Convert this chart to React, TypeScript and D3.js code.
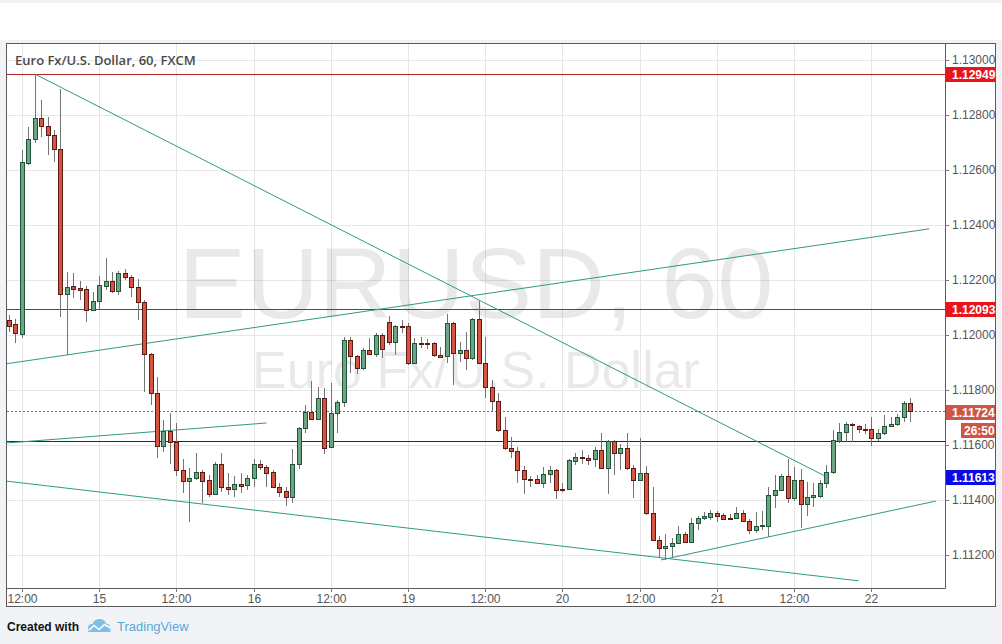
import React from 'react';
import * as d3 from 'd3';

// OHLC per hourly bar (open, high, low, close)
const candles: [number, number, number, number][] = [
  [1.12055, 1.12073, 1.12011, 1.12033],
  [1.12040, 1.12058, 1.11971, 1.12007],
  [1.12004, 1.12673, 1.11989, 1.12629],
  [1.12625, 1.12756, 1.12618, 1.12713],
  [1.12713, 1.12949, 1.12698, 1.12789],
  [1.12789, 1.12855, 1.12720, 1.12760],
  [1.12760, 1.12793, 1.12655, 1.12727],
  [1.12727, 1.12745, 1.12629, 1.12676],
  [1.12676, 1.12895, 1.12065, 1.12149],
  [1.12149, 1.12229, 1.11927, 1.12175],
  [1.12178, 1.12225, 1.12135, 1.12167],
  [1.12171, 1.12196, 1.12127, 1.12164],
  [1.12167, 1.12178, 1.12047, 1.12091],
  [1.12091, 1.12156, 1.12091, 1.12124],
  [1.12124, 1.12215, 1.12091, 1.12182],
  [1.12178, 1.12280, 1.12164, 1.12196],
  [1.12196, 1.12229, 1.12153, 1.12160],
  [1.12160, 1.12233, 1.12145, 1.12225],
  [1.12225, 1.12240, 1.12200, 1.12211],
  [1.12211, 1.12218, 1.12138, 1.12175],
  [1.12175, 1.12204, 1.12055, 1.12120],
  [1.12120, 1.12127, 1.11793, 1.11931],
  [1.11931, 1.11935, 1.11745, 1.11789],
  [1.11789, 1.11847, 1.11553, 1.11596],
  [1.11596, 1.11691, 1.11575, 1.11651],
  [1.11651, 1.11716, 1.11531, 1.11611],
  [1.11611, 1.11680, 1.11487, 1.11509],
  [1.11509, 1.11549, 1.11425, 1.11469],
  [1.11469, 1.11516, 1.11320, 1.11480],
  [1.11480, 1.11571, 1.11473, 1.11502],
  [1.11502, 1.11509, 1.11389, 1.11469],
  [1.11473, 1.11491, 1.11411, 1.11422],
  [1.11422, 1.11538, 1.11418, 1.11531],
  [1.11531, 1.11571, 1.11429, 1.11447],
  [1.11447, 1.11498, 1.11418, 1.11440],
  [1.11440, 1.11487, 1.11411, 1.11458],
  [1.11458, 1.11498, 1.11425, 1.11451],
  [1.11455, 1.11491, 1.11436, 1.11480],
  [1.11480, 1.11549, 1.11447, 1.11531],
  [1.11531, 1.11545, 1.11509, 1.11520],
  [1.11520, 1.11527, 1.11447, 1.11498],
  [1.11502, 1.11509, 1.11444, 1.11447],
  [1.11447, 1.11462, 1.11411, 1.11429],
  [1.11433, 1.11447, 1.11378, 1.11411],
  [1.11411, 1.11585, 1.11389, 1.11531],
  [1.11531, 1.11665, 1.11513, 1.11662],
  [1.11662, 1.11745, 1.11644, 1.11720],
  [1.11720, 1.11833, 1.11693, 1.11695],
  [1.11695, 1.11811, 1.11691, 1.11771],
  [1.11771, 1.11807, 1.11567, 1.11589],
  [1.11593, 1.11825, 1.11589, 1.11716],
  [1.11716, 1.11764, 1.11644, 1.11756],
  [1.11756, 1.11993, 1.11738, 1.11982],
  [1.11982, 1.11993, 1.11862, 1.11924],
  [1.11924, 1.11927, 1.11858, 1.11880],
  [1.11880, 1.11953, 1.11873, 1.11945],
  [1.11945, 1.11989, 1.11927, 1.11931],
  [1.11931, 1.12007, 1.11920, 1.12000],
  [1.12000, 1.12007, 1.11916, 1.11949],
  [1.12047, 1.12069, 1.11964, 1.11975],
  [1.11975, 1.12036, 1.11927, 1.12033],
  [1.12033, 1.12055, 1.12007, 1.12029],
  [1.12033, 1.12044, 1.11891, 1.11898],
  [1.11898, 1.11989, 1.11898, 1.11971],
  [1.11971, 1.11993, 1.11953, 1.11967],
  [1.11971, 1.11985, 1.11949, 1.11967],
  [1.11971, 1.11975, 1.11920, 1.11927],
  [1.11927, 1.11956, 1.11918, 1.11920],
  [1.11924, 1.12076, 1.11898, 1.12044],
  [1.12044, 1.12047, 1.11818, 1.11935],
  [1.11935, 1.11975, 1.11902, 1.11945],
  [1.11945, 1.12011, 1.11873, 1.11916],
  [1.11916, 1.12062, 1.11909, 1.12058],
  [1.12058, 1.12124, 1.11898, 1.11898],
  [1.11898, 1.11993, 1.11771, 1.11811],
  [1.11811, 1.11836, 1.11724, 1.11760],
  [1.11760, 1.11789, 1.11647, 1.11655],
  [1.11655, 1.11702, 1.11582, 1.11589],
  [1.11589, 1.11629, 1.11553, 1.11578],
  [1.11578, 1.11593, 1.11462, 1.11509],
  [1.11509, 1.11524, 1.11422, 1.11476],
  [1.11476, 1.11487, 1.11447, 1.11473],
  [1.11476, 1.11491, 1.11458, 1.11462],
  [1.11462, 1.11520, 1.11444, 1.11495],
  [1.11495, 1.11524, 1.11462, 1.11509],
  [1.11509, 1.11513, 1.11404, 1.11436],
  [1.11440, 1.11462, 1.11429, 1.11436],
  [1.11440, 1.11549, 1.11436, 1.11545],
  [1.11542, 1.11571, 1.11527, 1.11556],
  [1.11556, 1.11582, 1.11531, 1.11553],
  [1.11553, 1.11564, 1.11527, 1.11545],
  [1.11549, 1.11593, 1.11520, 1.11582],
  [1.11582, 1.11644, 1.11513, 1.11516],
  [1.11516, 1.11618, 1.11422, 1.11615],
  [1.11615, 1.11618, 1.11491, 1.11571],
  [1.11571, 1.11604, 1.11509, 1.11589],
  [1.11589, 1.11644, 1.11509, 1.11516],
  [1.11516, 1.11527, 1.11407, 1.11473],
  [1.11473, 1.11625, 1.11473, 1.11498],
  [1.11498, 1.11524, 1.11345, 1.11353],
  [1.11353, 1.11447, 1.11252, 1.11255],
  [1.11255, 1.11269, 1.11189, 1.11225],
  [1.11225, 1.11276, 1.11182, 1.11233],
  [1.11233, 1.11262, 1.11193, 1.11244],
  [1.11244, 1.11305, 1.11240, 1.11276],
  [1.11276, 1.11284, 1.11244, 1.11247],
  [1.11247, 1.11335, 1.11244, 1.11316],
  [1.11316, 1.11342, 1.11291, 1.11335],
  [1.11335, 1.11356, 1.11327, 1.11342],
  [1.11338, 1.11364, 1.11327, 1.11353],
  [1.11353, 1.11360, 1.11320, 1.11342],
  [1.11345, 1.11353, 1.11329, 1.11331],
  [1.11335, 1.11349, 1.11331, 1.11333],
  [1.11335, 1.11375, 1.11331, 1.11353],
  [1.11353, 1.11364, 1.11320, 1.11324],
  [1.11324, 1.11331, 1.11276, 1.11291],
  [1.11291, 1.11356, 1.11280, 1.11305],
  [1.11305, 1.11360, 1.11291, 1.11309],
  [1.11305, 1.11447, 1.11265, 1.11418],
  [1.11418, 1.11491, 1.11371, 1.11436],
  [1.11436, 1.11495, 1.11433, 1.11487],
  [1.11487, 1.11549, 1.11389, 1.11407],
  [1.11407, 1.11520, 1.11396, 1.11473],
  [1.11473, 1.11513, 1.11298, 1.11385],
  [1.11385, 1.11465, 1.11342, 1.11411],
  [1.11411, 1.11462, 1.11375, 1.11418],
  [1.11415, 1.11473, 1.11407, 1.11462],
  [1.11462, 1.11527, 1.11444, 1.11502],
  [1.11502, 1.11655, 1.11495, 1.11618],
  [1.11615, 1.11680, 1.11607, 1.11647],
  [1.11647, 1.11684, 1.11611, 1.11676],
  [1.11676, 1.11680, 1.11611, 1.11673],
  [1.11669, 1.11673, 1.11644, 1.11658],
  [1.11658, 1.11676, 1.11640, 1.11655],
  [1.11658, 1.11702, 1.11596, 1.11625],
  [1.11625, 1.11658, 1.11615, 1.11644],
  [1.11644, 1.11709, 1.11636, 1.11669],
  [1.11669, 1.11702, 1.11665, 1.11676],
  [1.11676, 1.11713, 1.11669, 1.11702],
  [1.11702, 1.11760, 1.11684, 1.11753],
  [1.11753, 1.11771, 1.11684, 1.11724],
];

const priceTicks = [1.112, 1.114, 1.116, 1.118, 1.12, 1.122, 1.124, 1.126, 1.128, 1.13];

const timeTickBars = [2, 14, 26, 38, 50, 62, 74, 86, 98, 110, 122, 134];
const timeTickLabels = ['12:00', '15', '12:00', '16', '12:00', '19', '12:00', '20', '12:00', '21', '12:00', '22'];

const redLevels = [1.12949, 1.12093];
const blueLevel = 1.11613;
const lastPrice = 1.11724;
const countdown = '26:50';

// trend lines: [barFrom, priceFrom, barTo, priceTo]
const trendLines: [number, number, number, number][] = [
  [4, 1.12949, 126.8, 1.11487],
  [-0.5, 1.11895, 143, 1.12386],
  [-0.5, 1.11607, 40, 1.1168],
  [-0.5, 1.11469, 132, 1.11106],
  [101.3, 1.11182, 144, 1.11396],
];

const title = 'Euro Fx/U.S. Dollar, 60, FXCM';
const watermarkMain = 'EURUSD, 60';
const watermarkSub = 'Euro Fx/U.S. Dollar';

const UP_FILL = '#6ba583';
const UP_BORDER = '#225437';
const DOWN_FILL = '#d75442';
const DOWN_BORDER = '#5b1a13';
const WICK = '#737375';
const TREND = '#2f9986';
const AXIS_TEXT = '#555';
const FONT = 'Arial, "Liberation Sans", sans-serif';

export default function App() {
  const W = 1002;
  const H = 644;
  const plotL = 7;
  const plotR = 945;
  const plotT = 44;
  const plotB = 588;

  const x = d3.scaleLinear().domain([0, candles.length - 1]).range([9, 910]);
  const y = d3.scaleLinear().domain([1.112, 1.13]).range([555, 60]);

  const fmt = d3.format('.5f');

  const curY = y(lastPrice);
  const curBoxTop = Math.round(curY) - 6;
  const cdTop = curBoxTop + 18;
  const blueBoxTop = cdTop + 47;

  return (
    <div style={{ position: 'absolute', left: 0, top: 0, width: W, height: H }}>
      <svg width={W} height={H} style={{ display: 'block' }}>
        <defs>
          <clipPath id="plotClip">
            <rect x={plotL} y={plotT} width={plotR - plotL} height={plotB - plotT} />
          </clipPath>
        </defs>
        <rect x={0} y={0} width={W} height={H} fill="#f1f3f6" />
        <rect x={0} y={3} width={W} height={37} fill="#ffffff" />
        <rect x={6.5} y={43.5} width={989} height={563} fill="#ffffff" stroke="#5a5a5a" />

        <g clipPath="url(#plotClip)">
          {/* grid */}
          {priceTicks.map((p) => (
            <line key={'hg' + p} x1={plotL} x2={plotR} y1={Math.round(y(p)) + 0.5} y2={Math.round(y(p)) + 0.5} stroke="#e6e6e6" />
          ))}
          {timeTickBars.map((b) => (
            <line key={'vg' + b} x1={Math.round(x(b)) + 0.5} x2={Math.round(x(b)) + 0.5} y1={plotT} y2={plotB} stroke="#e6e6e6" />
          ))}

          {/* watermark */}
          <text x={(plotL + plotR) / 2} y={318} textAnchor="middle" fontFamily={FONT} fontSize={101} fill="#000" fillOpacity={0.085}>
            {watermarkMain}
          </text>
          <text x={(plotL + plotR) / 2} y={388} textAnchor="middle" fontFamily={FONT} fontSize={52} fill="#000" fillOpacity={0.085}>
            {watermarkSub}
          </text>

          {/* horizontal levels */}
          {redLevels.map((p) => (
            <line key={'rl' + p} x1={plotL} x2={plotR} y1={Math.round(y(p)) + 0.5} y2={Math.round(y(p)) + 0.5} stroke="#b22222" />
          ))}
          <line x1={plotL} x2={plotR} y1={Math.round(y(blueLevel)) + 0.5} y2={Math.round(y(blueLevel)) + 0.5} stroke="#1e1e86" />
          <line x1={plotL} x2={plotR} y1={Math.round(curY) + 0.5} y2={Math.round(curY) + 0.5} stroke="#b0503e" strokeDasharray="2,2" />

          {/* trend lines */}
          {trendLines.map((t, i) => (
            <line key={'tl' + i} x1={x(t[0])} y1={y(t[1])} x2={x(t[2])} y2={y(t[3])} stroke={TREND} strokeWidth={1} />
          ))}

          {/* candles */}
          {candles.map((c, i) => {
            const [o, h, l, cl] = c;
            const up = cl >= o;
            const cx = Math.round(x(i));
            const top = Math.round(y(Math.max(o, cl)));
            const bot = Math.round(y(Math.min(o, cl)));
            return (
              <g key={'c' + i}>
                <line x1={cx + 0.5} x2={cx + 0.5} y1={Math.round(y(h))} y2={Math.round(y(l))} stroke={WICK} />
                <rect
                  x={cx - 2 + 0.5}
                  y={top + 0.5}
                  width={4}
                  height={Math.max(bot - top, 1)}
                  fill={up ? UP_FILL : DOWN_FILL}
                  stroke={up ? UP_BORDER : DOWN_BORDER}
                />
              </g>
            );
          })}
        </g>

        {/* axis separators */}
        <line x1={plotR + 0.5} x2={plotR + 0.5} y1={43.5} y2={plotB + 0.5} stroke="#5a5a5a" />
        <line x1={6.5} x2={plotR + 0.5} y1={plotB + 0.5} y2={plotB + 0.5} stroke="#5a5a5a" />

        {/* price axis */}
        {priceTicks.map((p) => (
          <g key={'pt' + p}>
            <line x1={plotR} x2={plotR + 4} y1={Math.round(y(p)) + 0.5} y2={Math.round(y(p)) + 0.5} stroke="#777" />
            <text x={952} y={y(p) + 4} fontFamily={FONT} fontSize={12} fill={AXIS_TEXT}>
              {fmt(p)}
            </text>
          </g>
        ))}

        {/* level labels */}
        {redLevels.map((p) => (
          <g key={'rlb' + p}>
            <rect x={plotR + 1} y={Math.round(y(p)) - 7} width={49} height={15} fill="#e8141b" />
            <text x={952} y={Math.round(y(p)) + 4.5} fontFamily={FONT} fontSize={12} fontWeight="bold" fill="#fff">
              {fmt(p)}
            </text>
          </g>
        ))}
        <rect x={plotR + 1} y={curBoxTop} width={49} height={15} fill="#cf5646" />
        <text x={952} y={curBoxTop + 11.5} fontFamily={FONT} fontSize={12} fontWeight="bold" fill="#fff">
          {fmt(lastPrice)}
        </text>
        <rect x={961} y={cdTop} width={34} height={15} fill="#cf5646" />
        <text x={964} y={cdTop + 11.5} fontFamily={FONT} fontSize={12} fontWeight="bold" fill="#fff">
          {countdown}
        </text>
        <rect x={plotR + 1} y={blueBoxTop} width={49} height={15} fill="#0a0ae8" />
        <text x={952} y={blueBoxTop + 11.5} fontFamily={FONT} fontSize={12} fontWeight="bold" fill="#fff">
          {fmt(blueLevel)}
        </text>

        {/* time axis */}
        {timeTickBars.map((b, i) => (
          <g key={'tt' + b}>
            <line x1={Math.round(x(b)) + 0.5} x2={Math.round(x(b)) + 0.5} y1={plotB} y2={plotB + 4} stroke="#777" />
            <text x={Math.round(x(b)) + 0.5} y={603} textAnchor="middle" fontFamily={FONT} fontSize={12} fill={AXIS_TEXT}>
              {timeTickLabels[i]}
            </text>
          </g>
        ))}

        {/* title */}
        <text x={15} y={65} fontFamily='"Open Sans", sans-serif' fontSize={13} fontWeight={600} fill="#4a4a4a">
          {title}
        </text>

        {/* footer */}
        <text x={7} y={631} fontFamily={FONT} fontSize={12} fontWeight="bold" fill="#111">
          Created with
        </text>
        <path d="M88,632 L88,628 Q88,624 92.5,624 Q94,619 99.5,619 Q105,619 106,623.5 Q110.5,624 110.5,628.5 L110.5,632 Z" fill="#7fbfe6" />
        <polyline points="88.5,630.5 94,625.5 99,629.5 104.5,624.5 110.5,628" fill="none" stroke="#fff" strokeWidth={1.6} />
        <text x={117} y={631} fontFamily={FONT} fontSize={13} fill="#5aa8d8">
          TradingView
        </text>
      </svg>
    </div>
  );
}
